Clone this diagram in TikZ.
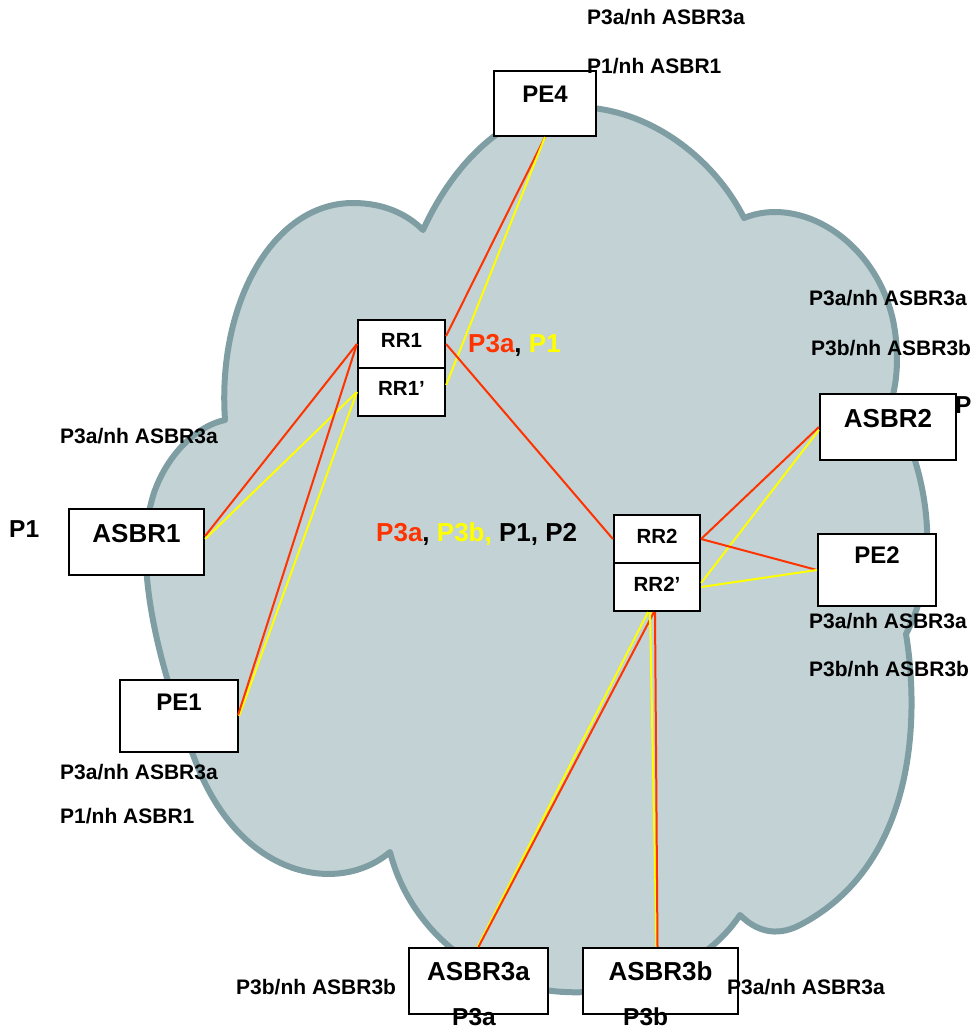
\documentclass[tikz,border=0pt]{standalone}
\usepackage{fontspec}
\setmainfont{Liberation Sans}
\usetikzlibrary{calc}
\definecolor{cloudfill}{HTML}{C2D2D5}
\definecolor{cloudline}{HTML}{7E9EA3}
\definecolor{linkred}{HTML}{FF3300}
\definecolor{linkyel}{HTML}{FFFF00}
\begin{document}
\begin{tikzpicture}[x=1pt,y=-1pt,
  box/.style={draw=black,line width=2.2pt,fill=white,inner sep=0pt},
  boxtext/.style={inner sep=0pt,anchor=base,font=\fontsize{26}{30}\selectfont\bfseries},
  petext/.style={boxtext,font=\fontsize{24}{28}\selectfont\bfseries},
  rrtext/.style={boxtext,font=\fontsize{20.5}{24}\selectfont\bfseries},
  note/.style={inner sep=0pt,anchor=base west,font=\fontsize{21}{25}\selectfont\bfseries},
  bignote/.style={inner sep=0pt,anchor=base west,font=\fontsize{26}{30}\selectfont\bfseries},
  midnote/.style={inner sep=0pt,anchor=base west,font=\fontsize{24.5}{28}\selectfont\bfseries},
  redlink/.style={draw=linkred,line width=2pt},
  yellink/.style={draw=linkyel,line width=2pt},
  cloud/.style={fill=cloudfill,draw=cloudline,line width=6pt,line join=round,line cap=round}]
\useasboundingbox (0,0) rectangle (973,1031);

% the network cloud, one curve per lobe
\path[cloud]
  (225,420) .. controls (217,305) and (272,203) .. (353,203)
            .. controls (385,203) and (408,215) .. (423,230)
  .. controls (455,160) and (510,107) .. (575,107)
  .. controls (650,107) and (715,160) .. (744,218)
  .. controls (800,195) and (875,240) .. (893,320)
  .. controls (900,355) and (897,385) .. (890,405)
  .. controls (925,460) and (945,560) .. (906,634)
  .. controls (920,720) and (915,865) .. (800,925)
  .. controls (775,938) and (755,930) .. (740,915)
  .. controls (700,975) and (620,995) .. (565,992)
  .. controls (480,988) and (410,930) .. (390,852)
  .. controls (340,895) and (240,880) .. (195,760)
  .. controls (160,670) and (130,560) .. (155,490)
  .. controls (170,450) and (200,425) .. (225,420)
  -- cycle;

% routers
\node[box,minimum width=102,minimum height=65] (pe4) at (545,103.5) {};
\node[box,minimum width=87,minimum height=48] (rr1) at (401.5,344) {};
\node[box,minimum width=87,minimum height=48] (rr1p) at (401.5,392) {};
\node[box,minimum width=135,minimum height=66] (asbr1) at (136.5,542) {};
\node[box,minimum width=118,minimum height=72] (pe1) at (179,716) {};
\node[box,minimum width=86,minimum height=48] (rr2) at (657,539) {};
\node[box,minimum width=86,minimum height=48] (rr2p) at (657,587) {};
\node[box,minimum width=118,minimum height=72] (pe2) at (877,570) {};
\node[box,minimum width=136,minimum height=66] (asbr2) at (888,427) {};
\node[box,minimum width=139,minimum height=66] (asbr3a) at (478.5,981) {};
\node[box,minimum width=155,minimum height=66] (asbr3b) at (660.5,981) {};

% iBGP sessions
\draw[redlink] (pe4.south) -- ($(rr1.east)+(0,-8)$);
\draw[yellink] (pe4.south) -- ($(rr1p.east)+(0,-7)$);
\draw[redlink] (rr1.east) -- (rr2.west);
\draw[yellink] (rr1p.west) -- ($(asbr1.east)+(0,-3)$);
\draw[redlink] (rr1.west) -- ($(asbr1.east)+(0,-6)$);
\draw[yellink] (rr1p.west) -- (pe1.east);
\draw[redlink] (rr1.west) -- ($(pe1.east)+(-1,-1)$);
\draw[redlink] (rr2.east) -- (asbr2.west);
\draw[yellink] ($(rr2p.east)+(0,-4)$) -- ($(asbr2.west)+(0,3)$);
\draw[redlink] (rr2.east) -- (pe2.west);
\draw[yellink] (rr2p.east) -- (pe2.west);
\draw[yellink] ($(rr2p.south)+(-9,0)$) -- ($(asbr3a.north)+(-1,0)$);
\draw[redlink] ($(rr2p.south)+(-3,0)$) -- (asbr3a.north);
\draw[yellink] ($(rr2p.south)+(-7,0)$) -- ($(asbr3b.north)+(-4,0)$);
\draw[redlink] ($(rr2p.south)+(-2,0)$) -- ($(asbr3b.north)+(-3,0)$);

% router names
\node[petext] (pe4-t) at (545,102) {PE4};
\node[rrtext] (rr1-t) at (401.5,347) {RR1};
\node[rrtext] (rr1p-t) at (401.5,395) {RR1’};
\node[boxtext] (asbr1-t) at (136.5,542) {ASBR1};
\node[petext] (pe1-t) at (179,710) {PE1};
\node[rrtext] (rr2-t) at (657,543) {RR2};
\node[rrtext] (rr2p-t) at (657,591) {RR2’};
\node[petext] (pe2-t) at (877,563) {PE2};
\node[boxtext] (asbr2-t) at (888,427) {ASBR2};
\node[boxtext] (asbr3a-t) at (478.5,980) {ASBR3a};
\node[boxtext] (asbr3b-t) at (660.5,980) {ASBR3b};

% prefixes and next hops
\node[note] (pe4-a) at (587,24.5) {P3a/nh ASBR3a};
\node[note] (pe4-b) at (587,73) {P1/nh ASBR1};
\node[note] (asbr2-a) at (809,305) {P3a/nh ASBR3a};
\node[note] (asbr2-b) at (811,355.5) {P3b/nh ASBR3b};
\node[note] (asbr1-a) at (60,443) {P3a/nh ASBR3a};
\node[note] (pe1-a) at (60,779.5) {P3a/nh ASBR3a};
\node[note] (pe1-b) at (60,823.5) {P1/nh ASBR1};
\node[note] (pe2-a) at (809,628.5) {P3a/nh ASBR3a};
\node[note] (pe2-b) at (809,676.5) {P3b/nh ASBR3b};
\node[note] (asbr3a-a) at (236,994.5) {P3b/nh ASBR3b};
\node[note] (asbr3b-a) at (727,994.5) {P3a/nh ASBR3a};

\node[midnote] (asbr1-p) at (9,537) {P1};
\node[midnote] (asbr2-p) at (955,413) {P};
\node[midnote] (asbr3a-p) at (452,1025) {P3a};
\node[midnote] (asbr3b-p) at (623,1025) {P3b};

\node[bignote] (rr1-n) at (468,352) {\textcolor{linkred}{P3a}, \textcolor{linkyel}{P1}};
\node[bignote] (rr2-n) at (376,541) {\textcolor{linkred}{P3a}, \textcolor{linkyel}{P3b,} P1, P2};
\end{tikzpicture}
\end{document}
